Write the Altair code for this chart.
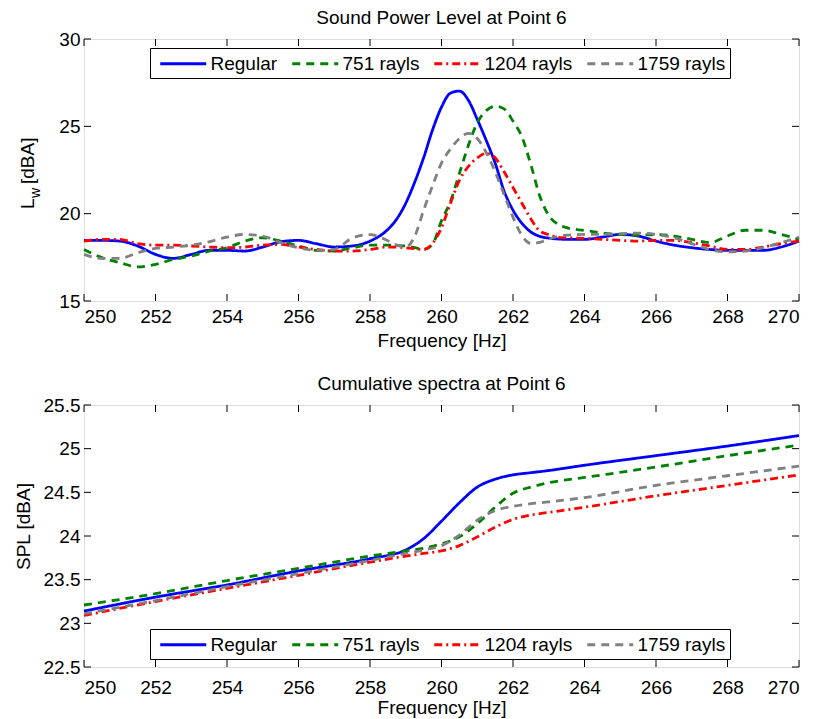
import altair as alt
import pandas as pd

FONT = "Liberation Sans"

series_names = ["Regular", "751 rayls", "1204 rayls", "1759 rayls"]
colors = ["#0000FF", "#008000", "#FF0000", "#808080"]
dashes = [[1, 0], [8, 6], [8, 4, 2, 4], [8, 6]]

# ---- Top panel: Sound Power Level ----
freq_top = [250, 250.5, 251, 251.5, 252, 252.5, 253, 253.5, 254, 254.5, 255, 255.5, 256, 256.5, 257, 257.5, 258,
            258.5, 258.75, 259, 259.25, 259.5, 259.75, 260, 260.25, 260.5, 260.75, 261, 261.25, 261.5, 261.75,
            262, 262.25, 262.5, 262.75, 263, 263.25, 263.5,
            264, 264.5, 265, 265.5, 266, 266.5, 267, 267.5, 268, 268.5, 269, 269.5, 270]
lw_regular = [18.47, 18.47, 18.43, 18.15, 17.67, 17.44, 17.67, 17.9, 17.9, 17.86, 18.09, 18.39, 18.47, 18.28, 18.09, 18.15, 18.43,
              19.1, 19.7, 20.6, 21.8, 23.2, 24.8, 26.1, 26.9, 27.02, 26.5, 25.4, 24.2, 22.9, 21.3,
              20.2, 19.45, 18.95, 18.7, 18.6, 18.55, 18.53,
              18.53, 18.66, 18.81, 18.72, 18.43, 18.2, 18.05, 17.95, 17.9, 17.9, 17.9, 18.09, 18.43]
lw_751 = [17.95, 17.48, 17.2, 16.95, 17.1, 17.38, 17.57, 17.86, 18.05, 18.43, 18.62, 18.43, 18.15, 17.9, 17.86, 18.05, 18.2,
          18.2, 18.18, 18.15, 18.05, 17.95, 18.25, 19.6, 20.7, 22.3, 23.9, 25.2, 25.9, 26.15, 26.0,
          25.3, 24.4, 22.8, 21.0, 19.9, 19.4, 19.2,
          19.04, 18.9, 18.81, 18.76, 18.81, 18.72, 18.53, 18.34, 18.72, 19.05, 19.05, 18.81, 18.53]
lw_1204 = [18.43, 18.53, 18.53, 18.28, 18.2, 18.2, 18.15, 18.09, 18.05, 18.09, 18.2, 18.24, 18.09, 17.95, 17.86, 17.86, 17.95,
           18.09, 18.08, 18.05, 18.0, 17.95, 18.3, 19.2, 20.6, 21.9, 22.7, 23.2, 23.45, 23.2, 22.4,
           21.5, 20.6, 19.7, 19.0, 18.8, 18.65, 18.62,
           18.58, 18.53, 18.47, 18.43, 18.47, 18.47, 18.34, 18.15, 17.95, 17.95, 18.09, 18.28, 18.43]
lw_1759 = [17.67, 17.44, 17.44, 17.76, 18.01, 18.09, 18.2, 18.39, 18.66, 18.81, 18.72, 18.34, 18.05, 17.9, 17.95, 18.6, 18.8,
           18.45, 18.2, 18.1, 18.7, 20.2, 21.6, 22.9, 23.7, 24.3, 24.6, 24.3, 23.5, 22.4, 21.1,
           19.8, 18.75, 18.3, 18.35, 18.55, 18.7, 18.77,
           18.81, 18.81, 18.85, 18.89, 18.81, 18.62, 18.28, 17.95, 17.82, 17.86, 18.05, 18.34, 18.66]

# ---- Bottom panel: Cumulative spectra ----
freq_cum = [250, 252, 254, 256, 258, 259, 259.5, 260, 260.5, 261, 261.5, 262, 262.5, 263, 264, 266, 268, 270]
spl_regular = [23.14, 23.30, 23.44, 23.60, 23.74, 23.84, 23.97, 24.17, 24.38, 24.56, 24.65, 24.70, 24.725, 24.75, 24.81, 24.92, 25.03, 25.15]
spl_751 = [23.21, 23.34, 23.49, 23.63, 23.77, 23.83, 23.86, 23.91, 23.99, 24.14, 24.33, 24.49, 24.56, 24.61, 24.67, 24.79, 24.92, 25.04]
spl_1204 = [23.09, 23.25, 23.40, 23.55, 23.70, 23.77, 23.80, 23.83, 23.89, 23.99, 24.10, 24.19, 24.24, 24.27, 24.33, 24.46, 24.58, 24.70]
spl_1759 = [23.11, 23.26, 23.42, 23.57, 23.72, 23.80, 23.84, 23.89, 24.01, 24.18, 24.29, 24.34, 24.37, 24.39, 24.44, 24.58, 24.69, 24.80]

x_ticks = [250, 252, 254, 256, 258, 260, 262, 264, 266, 268, 270]
lw_ticks = [15, 20, 25, 30]
spl_ticks = [22.5, 23, 23.5, 24, 24.5, 25, 25.5]

title_top = "Sound Power Level at Point 6"
title_bottom = "Cumulative spectra at Point 6"
xlabel = "Frequency [Hz]"
ylabel_bottom = "SPL [dBA]"
ylabel_top_parts = ["L", "w", "[dBA]"]


def long_df(freq, series_values):
    rows = []
    for name, vals in zip(series_names, series_values):
        for f, v in zip(freq, vals):
            rows.append({"freq": f, "val": v, "series": name})
    return pd.DataFrame(rows)


df_top = long_df(freq_top, [lw_regular, lw_751, lw_1204, lw_1759])
df_bot = long_df(freq_cum, [spl_regular, spl_751, spl_1204, spl_1759])

W, H = 715, 262
TICK = 7

color_scale = alt.Scale(domain=series_names, range=colors)
dash_scale = alt.Scale(domain=series_names, range=dashes)


def make_panel(df, ydom, yticks, title, legend_y, ytitle, extra_layers, label_pad, xtitle_y):
    xsc = alt.Scale(domain=[250, 270], nice=False, zero=False)
    ysc = alt.Scale(domain=ydom, nice=False, zero=False)
    xaxis = alt.Axis(values=x_ticks, ticks=False, domain=False, grid=False,
                     labelPadding=label_pad, labelFontSize=19, labelFont=FONT, labelColor="black",
                     title=xlabel, titleFontSize=19, titleFont=FONT, titleFontWeight="normal",
                     titleColor="black", titleBaseline="alphabetic", titleY=xtitle_y)
    yaxis_kw = dict(values=yticks, ticks=False, domain=False, grid=False, labelPadding=4,
                    labelFontSize=19, labelFont=FONT, labelColor="black", format="~g")
    if ytitle:
        yaxis = alt.Axis(title=ytitle, titleFontSize=19, titleFont=FONT, titleFontWeight="normal",
                         titleColor="black", titleBaseline="alphabetic", titleX=-55, titleY=121,
                         **yaxis_kw)
    else:
        yaxis = alt.Axis(title=None, **yaxis_kw)
    X = alt.X("freq:Q", scale=xsc, axis=xaxis)
    Y = alt.Y("val:Q", scale=ysc, axis=yaxis)

    legend = alt.Legend(orient="none", legendX=66, legendY=legend_y, direction="horizontal",
                        columns=4, title=None, symbolType="M-2.3,0H2.3", symbolSize=400,
                        symbolStrokeWidth=2.8, symbolOffset=17.75, labelFontSize=19, labelFont=FONT,
                        labelColor="black", labelOffset=15.75, columnPadding=8, padding=4,
                        strokeColor="black", fillColor="white", labelLimit=0)

    lines = alt.Chart(df).mark_line(strokeWidth=2.8, interpolate="monotone").encode(
        x=X, y=Y,
        color=alt.Color("series:N", scale=color_scale, sort=series_names, legend=legend),
        strokeDash=alt.StrokeDash("series:N", scale=dash_scale, sort=series_names, legend=legend),
    )

    xt = pd.DataFrame({"freq": x_ticks})
    yt = pd.DataFrame({"val": yticks})
    tick_b = alt.Chart(xt).mark_rule(color="black", strokeWidth=1).encode(
        x=X, y=alt.value(H), y2=alt.value(H - TICK))
    tick_t = alt.Chart(xt).mark_rule(color="black", strokeWidth=1).encode(
        x=X, y=alt.value(0), y2=alt.value(TICK))
    tick_l = alt.Chart(yt).mark_rule(color="black", strokeWidth=1).encode(
        y=Y, x=alt.value(0), x2=alt.value(TICK))
    tick_r = alt.Chart(yt).mark_rule(color="black", strokeWidth=1).encode(
        y=Y, x=alt.value(W - TICK), x2=alt.value(W))

    layers = [lines, tick_b, tick_t, tick_l, tick_r] + extra_layers
    return alt.layer(*layers).properties(
        width=W, height=H,
        title=alt.Title(title, fontSize=19, font=FONT, fontWeight="normal", color="black",
                        offset=-13, baseline="alphabetic"),
    )


# subscripted y label for the top panel
lab_L = alt.Chart(pd.DataFrame({"s": [ylabel_top_parts[0]]})).mark_text(
    angle=270, align="left", baseline="alphabetic", fontSize=19, font=FONT, color="black"
).encode(text="s:N", x=alt.value(-50), y=alt.value(170))
lab_w = alt.Chart(pd.DataFrame({"s": [ylabel_top_parts[1]]})).mark_text(
    angle=270, align="left", baseline="alphabetic", fontSize=14, font=FONT, color="black"
).encode(text="s:N", x=alt.value(-44), y=alt.value(159))
lab_d = alt.Chart(pd.DataFrame({"s": [ylabel_top_parts[2]]})).mark_text(
    angle=270, align="left", baseline="alphabetic", fontSize=19, font=FONT, color="black"
).encode(text="s:N", x=alt.value(-50), y=alt.value(145))

top = make_panel(df_top, [15, 30], lw_ticks, title_top, 9, None, [lab_L, lab_w, lab_d], 6, 45)
bottom = make_panel(df_bot, [22.5, 25.5], spl_ticks, title_bottom, 224, ylabel_bottom, [], 11, 46)

chart = alt.vconcat(top, bottom, spacing=104, bounds="flush").resolve_scale(
    color="independent", strokeDash="independent"
).resolve_legend(
    color="independent", strokeDash="independent"
).properties(
    padding={"left": 13, "top": 8, "right": 3, "bottom": 0},
    background="white",
).configure_view(stroke="black", strokeWidth=1).configure(font=FONT)

chart.save("out.html", embed_options={"renderer": "svg", "actions": False})
